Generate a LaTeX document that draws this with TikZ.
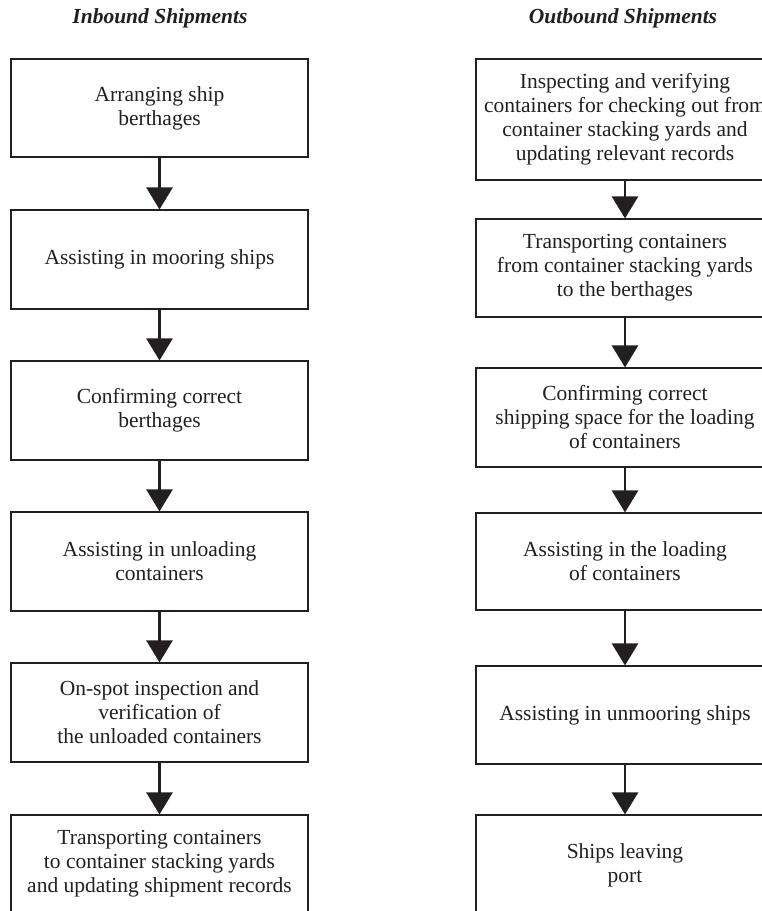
\documentclass[tikz,border=0pt]{standalone}
\usepackage{fontspec}
\setmainfont{Liberation Serif}
\usetikzlibrary{arrows.meta}
\definecolor{ink}{HTML}{231F20}
\tikzset{
  stepbox/.style={draw=ink, line width=1.1pt, rectangle, text=ink, align=center,
    inner sep=0pt, font=\fontsize{21.5pt}{24pt}\selectfont},
  lbox/.style={stepbox, minimum width=297pt},
  rbox/.style={stepbox, minimum width=298pt},
  flow/.style={draw=ink, line width=2.6pt, -{Triangle[width=26pt,length=22pt]}},
  header/.style={text=ink, font=\fontsize{21.5pt}{24pt}\selectfont\bfseries\itshape, anchor=base, inner sep=0pt}
}
\begin{document}
\begin{tikzpicture}[x=1pt,y=1pt]
\useasboundingbox (0,0) rectangle (762,-911);
\clip (0,0) rectangle (762,-911);
\node[header] (hin) at (160,-23) {Inbound Shipments};
\node[header] (hout) at (623,-23) {Outbound Shipments};
% left column
\node[lbox, minimum height=98pt] (l1) at (159.5,-108) {Arranging ship\\berthages};
\node[lbox, minimum height=99pt] (l2) at (159.5,-259.5) {Assisting in mooring ships};
\node[lbox, minimum height=99pt] (l3) at (159.5,-410.5) {Confirming correct\\berthages};
\node[lbox, minimum height=99pt] (l4) at (159.5,-561.5) {Assisting in unloading\\containers};
\node[lbox, minimum height=99pt] (l5) at (159.5,-712.5) {On-spot inspection and\\verification of\\the unloaded containers};
\node[lbox, minimum height=98pt] (l6) at (159.5,-864) {Transporting containers\\to container stacking yards\\and updating shipment records};
% right column
\node[rbox, minimum height=121pt] (r1) at (625,-119.5) {Inspecting and verifying\\containers for checking out from\\container stacking yards and\\updating relevant records};
\node[rbox, minimum height=98pt] (r2) at (625,-268) {Transporting containers\\from container stacking yards\\to the berthages};
\node[rbox, minimum height=99pt] (r3) at (625,-417.5) {Confirming correct\\shipping space for the loading\\of containers};
\node[rbox, minimum height=97pt] (r4) at (625,-561.5) {Assisting in the loading\\of containers};
\node[rbox, minimum height=98pt] (r5) at (625,-715) {Assisting in unmooring ships};
\node[rbox, minimum height=100pt] (r6) at (625,-865) {Ships leaving\\port};
% arrows
\foreach \a/\b in {l1/l2,l2/l3,l3/l4,l4/l5,l5/l6,r1/r2,r2/r3,r3/r4,r4/r5,r5/r6}
  \draw[flow] (\a.south) -- (\b.north);
\end{tikzpicture}
\end{document}
